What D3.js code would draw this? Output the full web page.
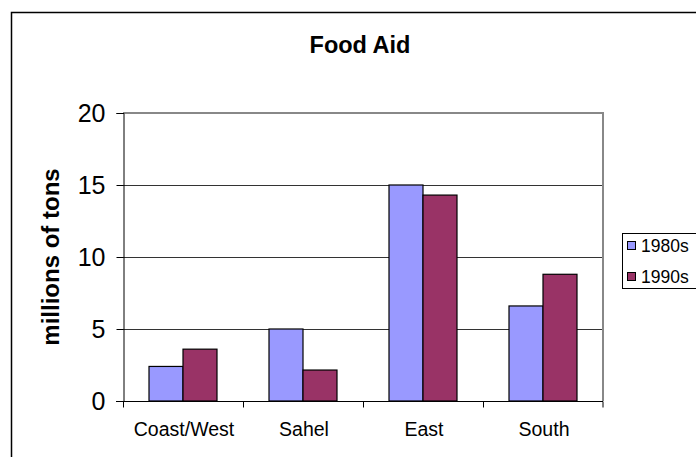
<!DOCTYPE html>
<html>
<head>
<meta charset="utf-8">
<script src="https://cdn.jsdelivr.net/npm/d3@7/dist/d3.min.js"></script>
<style>
  body { margin: 0; background: #fff; }
  svg { display: block; font-family: "Liberation Sans", Arial, sans-serif; }
</style>
</head>
<body>
<div id="chart"></div>
<script>
'use strict';

const regions = ['Coast/West', 'Sahel', 'East', 'South'];
const seriesNames = ['1980s', '1990s'];
const aid1980s = [2.4, 5.0, 15.0, 6.6];
const aid1990s = [3.6, 2.15, 14.3, 8.8];
const yTicks = [0, 5, 10, 15, 20];
const colors = ['#9999ff', '#993366'];

const width = 696;
const height = 457;
const plot = { left: 123, right: 603, top: 113, bottom: 401 };

const svg = d3.select('#chart')
  .append('svg')
    .attr('width', width)
    .attr('height', height);

// outer chart frame (runs off the right and bottom edge)
svg.append('rect')
  .attr('x', 11.5)
  .attr('y', 12.5)
  .attr('width', 720)
  .attr('height', 470)
  .attr('fill', 'none')
  .attr('stroke', '#000')
  .attr('stroke-width', 1.5);

const x = d3.scaleBand()
  .domain(regions)
  .range([plot.left, plot.right]);

const inner = d3.scaleBand()
  .domain(seriesNames)
  .range([0, x.bandwidth()])
  .paddingOuter(0.765);

const y = d3.scaleLinear()
  .domain([0, 20])
  .range([plot.bottom, plot.top]);

// grid lines
svg.append('g')
  .selectAll('line')
  .data(yTicks.filter(d => d > 0))
  .enter()
  .append('line')
    .attr('x1', plot.left)
    .attr('x2', plot.right)
    .attr('y1', d => Math.round(y(d)) + 0.5)
    .attr('y2', d => Math.round(y(d)) + 0.5)
    .attr('stroke', '#333')
    .attr('stroke-width', 1);

// plot area border, top and right in grey
svg.append('path')
  .attr('d', `M${plot.left},${plot.top}H${plot.right}V${plot.bottom}`)
  .attr('fill', 'none')
  .attr('stroke', '#888')
  .attr('stroke-width', 2);

// bars
const rows = regions.map((r, i) => ({ region: r, values: [aid1980s[i], aid1990s[i]] }));

svg.append('g')
  .selectAll('g')
  .data(rows)
  .enter()
  .append('g')
    .attr('transform', d => `translate(${x(d.region)},0)`)
  .selectAll('rect')
  .data(d => d.values.map((v, j) => ({ key: seriesNames[j], value: v, color: colors[j] })))
  .enter()
  .append('rect')
    .attr('x', d => inner(d.key))
    .attr('y', d => y(d.value))
    .attr('width', inner.bandwidth())
    .attr('height', d => y(0) - y(d.value))
    .attr('fill', d => d.color)
    .attr('stroke', '#000')
    .attr('stroke-width', 1.2);

// y axis
const yAxis = svg.append('g')
  .attr('transform', `translate(${plot.left + 0.5},0)`)
  .call(d3.axisLeft(y).tickValues(yTicks).tickSize(7).tickPadding(11));

yAxis.select('.domain').attr('stroke', '#000');
yAxis.selectAll('.tick line').attr('stroke', '#000');
yAxis.selectAll('text')
  .attr('font-size', 25)
  .attr('fill', '#000')
  .attr('font-family', '"Liberation Sans", Arial, sans-serif');

// x axis, ticks between categories
const xAxis = svg.append('g')
  .attr('transform', `translate(0,${plot.bottom + 0.5})`);

xAxis.append('line')
  .attr('x1', plot.left - 7)
  .attr('x2', plot.right)
  .attr('stroke', '#000');

xAxis.selectAll('line.tick')
  .data(regions.concat(['end']))
  .enter()
  .append('line')
    .attr('class', 'tick')
    .attr('x1', d => d === 'end' ? plot.right : Math.round(x(d)) + 0.5)
    .attr('x2', d => d === 'end' ? plot.right : Math.round(x(d)) + 0.5)
    .attr('y1', 0)
    .attr('y2', 6)
    .attr('stroke', '#000');

xAxis.selectAll('text')
  .data(regions)
  .enter()
  .append('text')
    .attr('x', d => x(d) + x.bandwidth() / 2 + 1)
    .attr('y', 34)
    .attr('text-anchor', 'middle')
    .attr('font-size', 19.5)
    .text(d => d);

// title
svg.append('text')
  .attr('x', 360)
  .attr('y', 53)
  .attr('text-anchor', 'middle')
  .attr('font-size', 23.5)
  .attr('font-weight', 'bold')
  .text('Food Aid');

// y axis title
svg.append('text')
  .attr('transform', `translate(59,${(plot.top + plot.bottom) / 2}) rotate(-90)`)
  .attr('text-anchor', 'middle')
  .attr('font-size', 24)
  .attr('font-weight', 'bold')
  .text('millions of tons');

// legend
const legend = svg.append('g')
  .attr('transform', 'translate(622,233)');

legend.append('rect')
  .attr('x', 0.5)
  .attr('y', 0.5)
  .attr('width', 90)
  .attr('height', 55)
  .attr('fill', '#fff')
  .attr('stroke', '#000');

const items = legend.selectAll('g.item')
  .data(seriesNames)
  .enter()
  .append('g')
    .attr('class', 'item')
    .attr('transform', (d, i) => `translate(0,${8 + i * 31})`);

items.append('rect')
  .attr('x', 5.5)
  .attr('y', 0.5)
  .attr('width', 8)
  .attr('height', 8)
  .attr('fill', (d, i) => colors[i])
  .attr('stroke', '#000');

items.append('text')
  .attr('x', 19)
  .attr('y', 10.5)
  .attr('font-size', 17.5)
  .text(d => d);
</script>
</body>
</html>
